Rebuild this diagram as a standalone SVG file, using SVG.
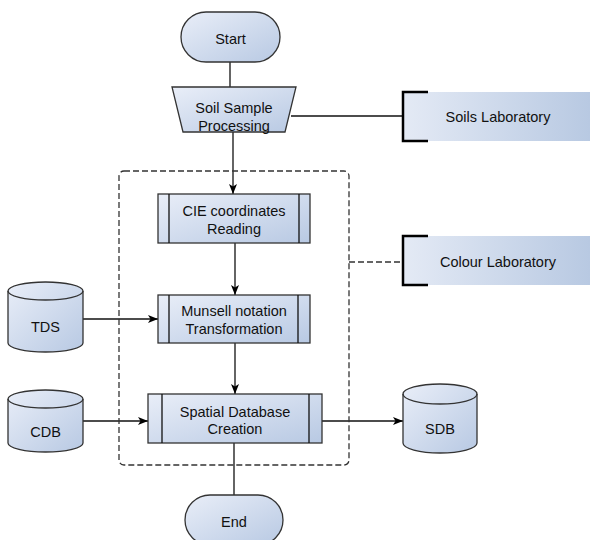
<svg xmlns="http://www.w3.org/2000/svg" width="590" height="540" viewBox="0 0 590 540">
<defs>
<linearGradient id="g" x1="0" y1="0" x2="1" y2="1">
<stop offset="0" stop-color="#e9eef8"/>
<stop offset="1" stop-color="#b8c9e3"/>
</linearGradient>
<linearGradient id="gh" x1="0" y1="0" x2="1" y2="0">
<stop offset="0" stop-color="#e4eaf5"/>
<stop offset="1" stop-color="#b8c9e2"/>
</linearGradient>
<marker id="arr" viewBox="0 0 10 8" refX="10" refY="4" markerWidth="10" markerHeight="8" markerUnits="userSpaceOnUse" orient="auto">
<path d="M0,0 L10,4 L0,8 L2.5,4 Z" fill="#000"/>
</marker>
</defs>
<style>
.s{fill:url(#g);stroke:#333;stroke-width:1.3}
.t{font-family:"Liberation Sans",Arial,sans-serif;font-size:14.5px;fill:#111;text-anchor:middle}
.c{fill:none;stroke:#111;stroke-width:1.3}
.d{fill:none;stroke:#333;stroke-width:1.3;stroke-dasharray:6,3}
.b{fill:none;stroke:#000;stroke-width:2.5}
</style>
<g id="connectors">
<path class="c" d="M230,62 V87"/>
<path class="c" d="M233,132 V194" marker-end="url(#arr)"/>
<path class="c" d="M235,243 V295" marker-end="url(#arr)"/>
<path class="c" d="M235,343 V394" marker-end="url(#arr)"/>
<path class="c" d="M234,443 V495"/>
<path class="c" d="M83,319 H158" marker-end="url(#arr)"/>
<path class="c" d="M83,421 H148" marker-end="url(#arr)"/>
<path class="c" d="M322,421 H403" marker-end="url(#arr)"/>
<path class="c" d="M291,116 H403"/>
<path class="d" d="M349,262 H403"/>
</g>
<g id="container">
<rect class="d" x="119" y="171" width="230" height="294" rx="5"/>
</g>
<g id="start">
<rect class="s" x="181" y="12" width="99" height="50" rx="25"/>
<text class="t" x="230.5" y="44">Start</text>
</g>
<g id="soil">
<path class="s" d="M172,87 H296 L285,132 H183 Z"/>
<text class="t" x="234" y="113">Soil Sample</text>
<text class="t" x="234" y="131">Processing</text>
</g>
<g id="soilslab">
<rect x="403" y="92" width="187" height="49" fill="url(#gh)"/>
<path class="b" d="M428,92 H403 V141 H428"/>
<text class="t" x="498" y="122">Soils Laboratory</text>
</g>
<g id="colourlab">
<rect x="403" y="236" width="187" height="49" fill="url(#gh)"/>
<path class="b" d="M428,236 H403 V285 H428"/>
<text class="t" x="498" y="267">Colour Laboratory</text>
</g>
<g id="cie">
<rect class="s" x="158" y="194" width="152" height="49"/>
<path class="c" d="M169,194 V243 M299,194 V243"/>
<text class="t" x="234" y="216">CIE coordinates</text>
<text class="t" x="234" y="234">Reading</text>
</g>
<g id="munsell">
<rect class="s" x="158" y="295" width="152" height="48"/>
<path class="c" d="M169,295 V343 M298,295 V343"/>
<text class="t" x="234" y="316">Munsell notation</text>
<text class="t" x="234" y="334">Transformation</text>
</g>
<g id="spatial">
<rect class="s" x="148" y="394" width="174" height="49"/>
<path class="c" d="M162,394 V443 M309,394 V443"/>
<text class="t" x="235" y="417">Spatial Database</text>
<text class="t" x="235" y="434">Creation</text>
</g>
<g id="tds">
<path class="s" d="M8,291 A37.5,9 0 0 1 83,291 V343 A37.5,9 0 0 1 8,343 Z"/>
<path class="c" style="stroke:#333" d="M8,291 A37.5,9 0 0 0 83,291"/>
<text class="t" x="45.5" y="332">TDS</text>
</g>
<g id="cdb">
<path class="s" d="M8,399 A37.5,9 0 0 1 83,399 V443 A37.5,9 0 0 1 8,443 Z"/>
<path class="c" style="stroke:#333" d="M8,399 A37.5,9 0 0 0 83,399"/>
<text class="t" x="45.5" y="437">CDB</text>
</g>
<g id="sdb">
<path class="s" d="M403,394 A37,10 0 0 1 477,394 V443 A37,10 0 0 1 403,443 Z"/>
<path class="c" style="stroke:#333" d="M403,394 A37,10 0 0 0 477,394"/>
<text class="t" x="440" y="434">SDB</text>
</g>
<g id="end">
<rect class="s" x="185" y="495" width="98" height="50" rx="25"/>
<text class="t" x="234" y="527">End</text>
</g>
</svg>
